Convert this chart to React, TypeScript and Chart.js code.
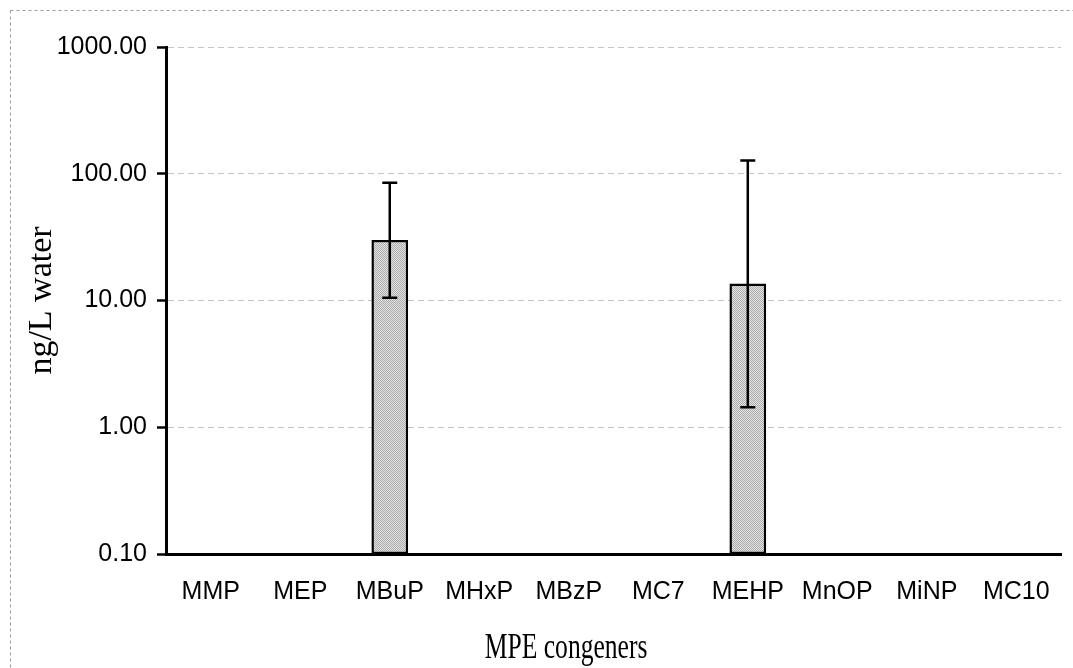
import React, { useEffect, useRef } from "react";
import { Chart, registerables } from "chart.js";

Chart.register(...registerables);

const categories = ["MMP", "MEP", "MBuP", "MHxP", "MBzP", "MC7", "MEHP", "MnOP", "MiNP", "MC10"];
const meanValues: (number | null)[] = [null, null, 30, null, null, null, 13.6, null, null, null];
const errorLow: (number | null)[] = [null, null, 10.5, null, null, null, 1.44, null, null, null];
const errorHigh: (number | null)[] = [null, null, 85, null, null, null, 127, null, null, null];
const yTickValues = [0.1, 1, 10, 100, 1000];
const xTitle = "MPE congeners";
const yTitle = "ng/L water";

function makePattern(): CanvasPattern | string {
  const c = document.createElement("canvas");
  c.width = 2;
  c.height = 2;
  const g = c.getContext("2d");
  if (!g) return "#c8c8c8";
  g.fillStyle = "#e4e4e4";
  g.fillRect(0, 0, 2, 2);
  g.fillStyle = "#aaaaaa";
  g.fillRect(0, 0, 1, 1);
  g.fillRect(1, 1, 1, 1);
  const p = g.createPattern(c, "repeat");
  return p || "#c8c8c8";
}

const errorBarPlugin = {
  id: "errorBars",
  afterDatasetsDraw(chart: any) {
    const ctx = chart.ctx;
    const meta = chart.getDatasetMeta(0);
    const y = chart.scales.y;
    ctx.save();
    ctx.strokeStyle = "#000";
    ctx.lineWidth = 2.5;
    meta.data.forEach((bar: any, i: number) => {
      const lo = errorLow[i];
      const hi = errorHigh[i];
      if (lo == null || hi == null || meanValues[i] == null) return;
      const x = bar.x;
      const yl = y.getPixelForValue(lo);
      const yh = y.getPixelForValue(hi);
      ctx.beginPath();
      ctx.moveTo(x, yl);
      ctx.lineTo(x, yh);
      ctx.moveTo(x - 7.5, yl);
      ctx.lineTo(x + 7.5, yl);
      ctx.moveTo(x - 7.5, yh);
      ctx.lineTo(x + 7.5, yh);
      ctx.stroke();
    });
    ctx.restore();
  },
};

const framePlugin = {
  id: "frameAndTitle",
  beforeDraw(chart: any) {
    const ctx = chart.ctx;
    ctx.save();
    ctx.strokeStyle = "#9a9a9a";
    ctx.lineWidth = 1;
    ctx.setLineDash([3, 3]);
    ctx.beginPath();
    ctx.moveTo(10.5, 10.5);
    ctx.lineTo(chart.width, 10.5);
    ctx.moveTo(10.5, 10.5);
    ctx.lineTo(10.5, chart.height);
    ctx.stroke();
    ctx.restore();
  },
  afterDraw(chart: any) {
    const ctx = chart.ctx;
    const area = chart.chartArea;
    ctx.save();
    ctx.fillStyle = "#000";
    ctx.font = "35px 'Liberation Serif', 'Times New Roman', serif";
    ctx.textAlign = "center";
    ctx.textBaseline = "alphabetic";
    const cx = area.left + (area.right - area.left) * 0.447;
    ctx.translate(cx, 658);
    ctx.scale(0.73, 1);
    ctx.fillText(xTitle, 0, 0);
    ctx.restore();
  },
};

export default function App() {
  const ref = useRef<HTMLCanvasElement | null>(null);
  useEffect(() => {
    if (!ref.current) return;
    const pattern = makePattern();
    const chart = new Chart(ref.current, {
      type: "bar",
      data: {
        labels: categories,
        datasets: [
          {
            data: meanValues as any,
            backgroundColor: pattern as any,
            borderColor: "#000",
            borderWidth: 2.5,
            borderSkipped: false,
            barPercentage: 0.41,
            categoryPercentage: 1,
          },
        ],
      },
      options: {
        animation: false,
        responsive: false,
        maintainAspectRatio: false,
        layout: { padding: { left: 0, top: 47, right: 7, bottom: 0 } },
        plugins: { legend: { display: false }, tooltip: { enabled: false } },
        scales: {
          x: {
            grid: { display: false, drawTicks: false },
            border: { display: true, color: "#000", width: 3 },
            ticks: {
              color: "#000",
              font: { family: "'Liberation Sans', Arial, sans-serif", size: 25 },
              padding: 23,
              autoSkip: false,
              maxRotation: 0,
              minRotation: 0,
            },
            afterFit(scale: any) {
              scale.height = 114;
            },
          },
          y: {
            type: "logarithmic",
            min: 0.1,
            max: 1000,
            afterBuildTicks(scale: any) {
              scale.ticks = yTickValues.map((v) => ({ value: v }));
            },
            afterFit(scale: any) {
              scale.width = 166;
            },
            grid: {
              color: "#c4c4c4",
              lineWidth: 1,
              drawTicks: true,
              tickLength: 9,
              tickColor: "#000",
              tickWidth: 2.5,
            },
            border: { display: true, color: "#000", width: 3, dash: [6, 4] },
            ticks: {
              color: "#000",
              font: { family: "'Liberation Sans', Arial, sans-serif", size: 25 },
              padding: 10,
              autoSkip: false,
              callback: (v: any) => Number(v).toFixed(2),
            },
            title: {
              display: true,
              text: yTitle,
              color: "#000",
              font: { family: "'Liberation Serif', 'Times New Roman', serif", size: 34 },
              padding: { top: 22, bottom: 0 },
            },
          },
        },
      },
      plugins: [errorBarPlugin, framePlugin],
    });
    return () => chart.destroy();
  }, []);
  return (
    <div style={{ position: "absolute", left: 0, top: 0, width: 1073, height: 668, background: "#fff" }}>
      <canvas ref={ref} width={1073} height={668} style={{ display: "block" }} />
    </div>
  );
}
